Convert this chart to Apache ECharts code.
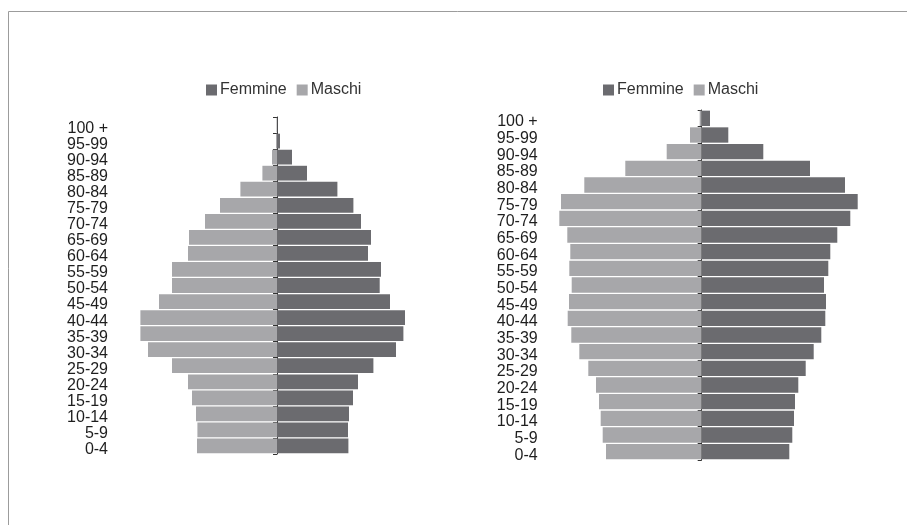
<!DOCTYPE html>
<html>
<head>
<meta charset="utf-8">
<script src="https://cdn.jsdelivr.net/npm/echarts@6/dist/echarts.min.js"></script>
<style>
html,body{margin:0;padding:0;background:#fff;}
#chart{width:907px;height:525px;}
</style>
</head>
<body>
<div id="chart"></div>
<script>
// Age classes, bottom to top
var categories = ['0-4','5-9','10-14','15-19','20-24','25-29','30-34','35-39','40-44','45-49','50-54','55-59','60-64','65-69','70-74','75-79','80-84','85-89','90-94','95-99','100 +'];
var legendNames = ['Femmine', 'Maschi'];

// Left pyramid
var leftMaschi  = [80, 79.6, 81, 85, 89, 105, 129, 136.6, 136.6, 118, 105, 105, 89, 88, 72, 57, 36.6, 14.6, 5, 1, 0.5];
var leftFemmine = [71.4, 71, 72, 76, 81, 96.4, 119, 126.4, 128, 113, 102.7, 104, 91, 94, 84, 76.4, 60.4, 30, 15, 3, 0.5];

// Right pyramid
var rightMaschi  = [95.7, 99, 101, 102.7, 105.7, 113.4, 122.4, 130.4, 134, 132.7, 130, 132.4, 131.4, 134.4, 142.4, 140.7, 117.4, 76.4, 35, 11.7, 2];
var rightFemmine = [87.6, 90.6, 92.3, 93.3, 96.6, 104, 112, 119.6, 123.6, 124.3, 122.3, 126.6, 128.6, 135.6, 148.6, 156, 143.3, 108.3, 61.6, 26.6, 8.3];

var colF = '#6b6b6f';
var colM = '#a7a7aa';
var FONT = 'Liberation Sans, Arial, sans-serif';

function neg(a){ return a.map(function(v){ return -v; }); }

function xAx(idx, lim){
  return {
    type: 'value', gridIndex: idx, min: -lim, max: lim,
    axisLine: {show: false}, axisTick: {show: false},
    axisLabel: {show: false}, splitLine: {show: false}
  };
}
function yAx(idx, margin){
  return {
    type: 'category', gridIndex: idx, data: categories,
    axisLine: {onZero: true, lineStyle: {color: '#333', width: 1}},
    axisTick: {show: true, length: 4, lineStyle: {color: '#333'}},
    axisLabel: {interval: 0, margin: margin, color: '#1e1e1e', fontSize: 16, fontFamily: FONT,
                align: 'right', verticalAlign: 'top', lineHeight: 7}
  };
}
function barS(name, data, idx, color){
  return {
    name: name, type: 'bar', xAxisIndex: idx, yAxisIndex: idx,
    stack: 'p' + idx, data: data, barCategoryGap: '8%',
    itemStyle: {color: color}, silent: true
  };
}
function legendAt(x){
  return {
    data: legendNames, left: x, top: 82, padding: 0,
    itemWidth: 11, itemHeight: 11, itemGap: 10, icon: 'rect',
    textStyle: {fontSize: 16, fontFamily: FONT, color: '#333', padding: [0, 0, 0, -2]}
  };
}

var chart = echarts.init(document.getElementById('chart'), null, {renderer: 'canvas'});
chart.setOption({
  animation: false,
  color: [colF, colM],
  graphic: [
    {type: 'line', shape: {x1: 8.5, y1: 11.5, x2: 907, y2: 11.5}, style: {stroke: '#9c9c9c', lineWidth: 1}},
    {type: 'line', shape: {x1: 8.5, y1: 11.5, x2: 8.5, y2: 525}, style: {stroke: '#9c9c9c', lineWidth: 1}}
  ],
  legend: [legendAt(206), legendAt(603)],
  grid: [
    {left: 127, width: 300, top: 117, height: 337, containLabel: false, outerBoundsMode: 'none'},
    {left: 541.7, width: 320, top: 110, height: 350, containLabel: false, outerBoundsMode: 'none'}
  ],
  xAxis: [xAx(0, 150), xAx(1, 160)],
  yAxis: [yAx(0, 19), yAx(1, 4)],
  series: [
    barS('Maschi', neg(leftMaschi), 0, colM),
    barS('Femmine', leftFemmine, 0, colF),
    barS('Maschi', neg(rightMaschi), 1, colM),
    barS('Femmine', rightFemmine, 1, colF)
  ]
});
</script>
</body>
</html>
